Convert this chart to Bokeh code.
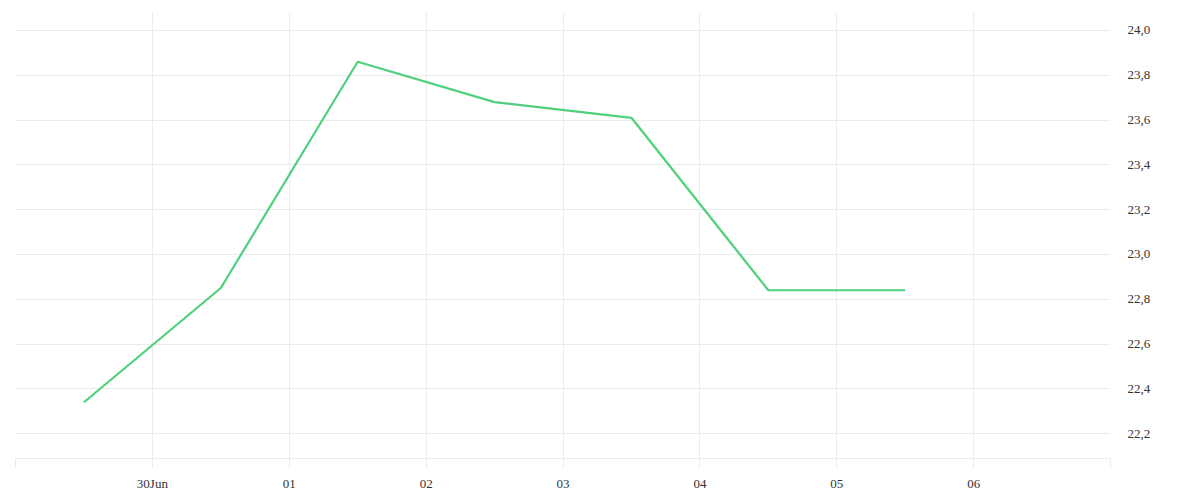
from datetime import datetime
from bokeh.plotting import figure
from bokeh.models import Range1d, FixedTicker, CustomJSTickFormatter, ColumnDataSource
from bokeh.embed import file_html
from bokeh.resources import INLINE

# ---- data ----
dates = [datetime(2024, 6, 29, 12), datetime(2024, 6, 30, 12), datetime(2024, 7, 1, 12),
         datetime(2024, 7, 2, 12), datetime(2024, 7, 3, 12), datetime(2024, 7, 4, 12),
         datetime(2024, 7, 5, 12)]
values = [22.34, 22.85, 23.86, 23.68, 23.61, 22.84, 22.84]

x_tick_dates = [datetime(2024, 6, 29), datetime(2024, 6, 30), datetime(2024, 7, 1),
                datetime(2024, 7, 2), datetime(2024, 7, 3), datetime(2024, 7, 4),
                datetime(2024, 7, 5), datetime(2024, 7, 6), datetime(2024, 7, 7)]
x_tick_labels = ["", "30Jun", "01", "02", "03", "04", "05", "06", ""]
y_ticks = [22.2, 22.4, 22.6, 22.8, 23.0, 23.2, 23.4, 23.6, 23.8, 24.0]

FONT = "serif"
GRID = "#ebebeb"
LINE = "#4ed07c"


def ms(d):
    return (d - datetime(1970, 1, 1)).total_seconds() * 1000.0


src = ColumnDataSource(data=dict(x=dates, y=values))

p = figure(x_axis_type="datetime", y_axis_location="right",
           frame_width=1095, frame_height=446,
           min_border_left=15, min_border_top=12, min_border_bottom=5, min_border_right=5,
           output_backend="svg", toolbar_location=None,
           x_range=Range1d(x_tick_dates[0], x_tick_dates[-1]),
           y_range=Range1d(22.089, 24.08))

p.line("x", "y", source=src, line_color=LINE, line_width=2.2)

p.outline_line_color = None
p.background_fill_color = "white"
p.border_fill_color = "white"

# x axis
xt = [ms(d) for d in x_tick_dates]
xa = p.xaxis[0]
xa.ticker = FixedTicker(ticks=xt)
xa.major_label_overrides = {t: lab for t, lab in zip(xt, x_tick_labels)}
xa.axis_line_color = GRID
xa.major_tick_line_color = GRID
xa.major_tick_in = 0
xa.major_tick_out = 10
xa.minor_tick_line_color = None
xa.major_label_standoff = 7
xa.major_label_text_font = FONT
xa.major_label_text_font_size = "13px"
xa.major_label_text_color = "#333333"

# y axis
ya = p.yaxis[0]
ya.ticker = FixedTicker(ticks=y_ticks)
ya.formatter = CustomJSTickFormatter(code="return tick.toFixed(1).replace('.', ',');")
ya.axis_line_color = None
ya.major_tick_line_color = None
ya.minor_tick_line_color = None
ya.major_tick_in = 0
ya.major_tick_out = 0
ya.major_label_standoff = 17
ya.major_label_text_font = FONT
ya.major_label_text_font_size = "13px"
ya.major_label_text_color = "#333333"

p.xgrid.ticker = FixedTicker(ticks=xt)
p.xgrid.grid_line_color = GRID
p.ygrid.ticker = FixedTicker(ticks=y_ticks)
p.ygrid.grid_line_color = GRID

open("out.html", "w").write(file_html(p, INLINE))
